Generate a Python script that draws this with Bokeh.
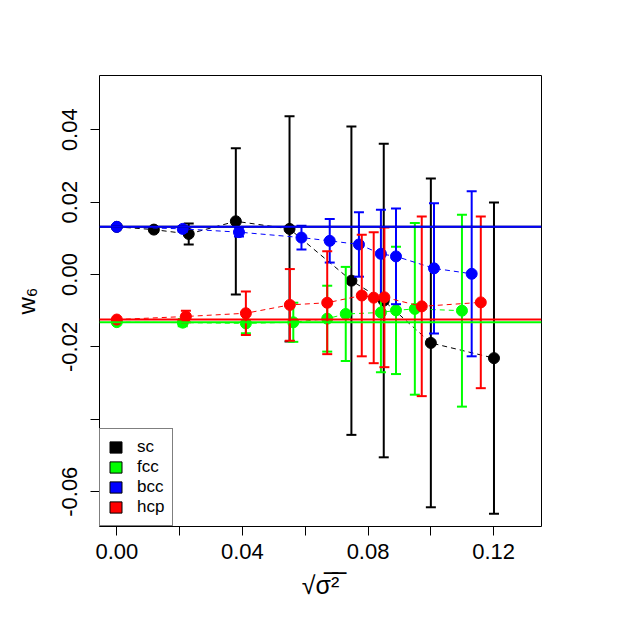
from bokeh.plotting import figure
from bokeh.models import (Whisker, TeeHead, Span, ColumnDataSource, Legend,
                          LegendItem, FixedTicker)
from bokeh.embed import file_html
from bokeh.resources import INLINE

# ---- data ----
sc_x = [0.0, 0.0118, 0.0229, 0.0379, 0.0550, 0.0747, 0.0850, 0.1000, 0.1201]
sc_y = [0.01316, 0.0124, 0.0112, 0.0147, 0.0126, -0.0017, -0.0072, -0.0189, -0.0231]
sc_err = [0.0, 0.0005, 0.0029, 0.0202, 0.0311, 0.0426, 0.0433, 0.0454, 0.0430]

fcc_x = [0.0, 0.0210, 0.0411, 0.0562, 0.0670, 0.0729, 0.0841, 0.0889, 0.0949, 0.1099]
fcc_y = [-0.01316, -0.0133, -0.0135, -0.0132, -0.0122, -0.0109, -0.0105, -0.0099, -0.0095, -0.0100]
fcc_err = [0.0, 0.0010, 0.0027, 0.0054, 0.0091, 0.0130, 0.0165, 0.0176, 0.0237, 0.0265]

bcc_x = [0.0, 0.0210, 0.0389, 0.0588, 0.0678, 0.0771, 0.0841, 0.0889, 0.1010, 0.1130]
bcc_y = [0.01316, 0.0126, 0.0117, 0.0102, 0.0093, 0.0083, 0.0057, 0.0050, 0.0017, 0.0002]
bcc_err = [0.0, 0.0008, 0.0012, 0.0033, 0.0060, 0.0089, 0.0122, 0.0132, 0.0180, 0.0228]

hcp_x = [0.0, 0.0220, 0.0411, 0.0551, 0.0670, 0.0780, 0.0818, 0.0852, 0.0971, 0.1159]
hcp_y = [-0.01244, -0.0116, -0.0107, -0.0084, -0.0078, -0.0058, -0.0064, -0.0063, -0.0088, -0.0077]
hcp_err = [0.0, 0.0016, 0.0060, 0.0099, 0.0142, 0.0168, 0.0181, 0.0193, 0.0248, 0.0237]

# ideal-crystal reference values of w6
ref_names = ["sc", "fcc", "bcc", "hcp"]
ref_w6 = [0.013161, -0.013161, 0.013161, -0.012442]
colors = ["black", "#00FF00", "#0000FF", "#FF0000"]

x_ticks = [0.0, 0.02, 0.04, 0.06, 0.08, 0.10, 0.12]
x_tick_labels = ["0.00", "", "0.04", "", "0.08", "", "0.12"]
y_ticks = [-0.06, -0.04, -0.02, 0.0, 0.02, 0.04]
y_tick_labels = ["-0.06", "", "-0.02", "0.00", "0.02", "0.04"]

FONT = "Liberation Sans"

p = figure(width=610, height=618,
           x_range=(-0.00551, 0.13523), y_range=(-0.06961, 0.05497),
           output_backend="svg", toolbar_location=None,
           min_border_left=99, min_border_right=69,
           min_border_top=75, min_border_bottom=92)

p.xgrid.visible = False
p.ygrid.visible = False
p.outline_line_color = "black"
p.outline_line_width = 1
p.outline_line_alpha = 1
p.background_fill_color = "white"
p.border_fill_color = "white"

for ax in (p.xaxis[0], p.yaxis[0]):
    ax.axis_line_color = None
    ax.major_tick_out = 9
    ax.major_tick_in = 0
    ax.major_tick_line_color = "black"
    ax.minor_tick_line_color = None
    ax.major_label_text_font = FONT
    ax.major_label_text_font_size = "22px"
    ax.major_label_text_color = "black"
    ax.axis_label_text_font = FONT
    ax.axis_label_text_font_style = "normal"
    ax.axis_label_text_color = "black"

p.xaxis.ticker = FixedTicker(ticks=x_ticks)
p.xaxis.major_label_overrides = {t: l for t, l in zip(x_ticks, x_tick_labels)}
p.xaxis.major_label_standoff = 8
p.xaxis.axis_label = "\u221a\u03c3\u0305\u00b2\u0305"
p.xaxis.axis_label_text_font_size = "25px"
p.xaxis.axis_label_standoff = 9

p.yaxis.ticker = FixedTicker(ticks=y_ticks)
p.yaxis.major_label_overrides = {t: l for t, l in zip(y_ticks, y_tick_labels)}
p.yaxis.major_label_orientation = "vertical"
p.yaxis.major_label_standoff = 13
p.yaxis.axis_label = "w\u2086"
p.yaxis.axis_label_text_font_size = "24px"
p.yaxis.axis_label_standoff = 20

series = [(sc_x, sc_y, sc_err), (fcc_x, fcc_y, fcc_err),
          (bcc_x, bcc_y, bcc_err), (hcp_x, hcp_y, hcp_err)]

for (xs, ys, es), c in zip(series, colors):
    p.line(xs, ys, line_color=c, line_width=1, line_dash="5 4")
    bx = [x for x, e in zip(xs, es) if e > 0]
    up = [y + e for y, e in zip(ys, es) if e > 0]
    lo = [y - e for y, e in zip(ys, es) if e > 0]
    src = ColumnDataSource(data=dict(base=bx, upper=up, lower=lo))
    w = Whisker(source=src, base="base", upper="upper", lower="lower",
                dimension="height", line_color=c, line_width=2, level="glyph",
                upper_head=TeeHead(size=10, line_color=c, line_width=2),
                lower_head=TeeHead(size=10, line_color=c, line_width=2))
    p.renderers.append(w)
    p.scatter(xs, ys, size=11, fill_color=c, line_color=c, line_width=1)

for v, c in zip(ref_w6, colors):
    p.renderers.append(Span(location=v, dimension="width", line_color=c,
                            line_width=2, level="glyph"))

# legend with filled boxes (renderers hold one NaN row so nothing shows in the plot)
nan = float("nan")
items = []
for name, c in zip(ref_names, colors):
    r = p.quad(left=[nan], right=[nan], top=[nan], bottom=[nan], fill_color=c,
               line_color="black", line_width=1)
    items.append(LegendItem(label=name, renderers=[r]))

legend = Legend(items=items, location="bottom_left", margin=0, padding=8,
                spacing=0, glyph_width=15, glyph_height=14, label_height=18,
                label_standoff=14, label_text_font=FONT,
                label_text_font_size="17px", label_text_color="black",
                border_line_color="black", border_line_width=1,
                background_fill_color="white", background_fill_alpha=1)
p.add_layout(legend, "center")

open("out.html", "w").write(file_html(p, INLINE))
